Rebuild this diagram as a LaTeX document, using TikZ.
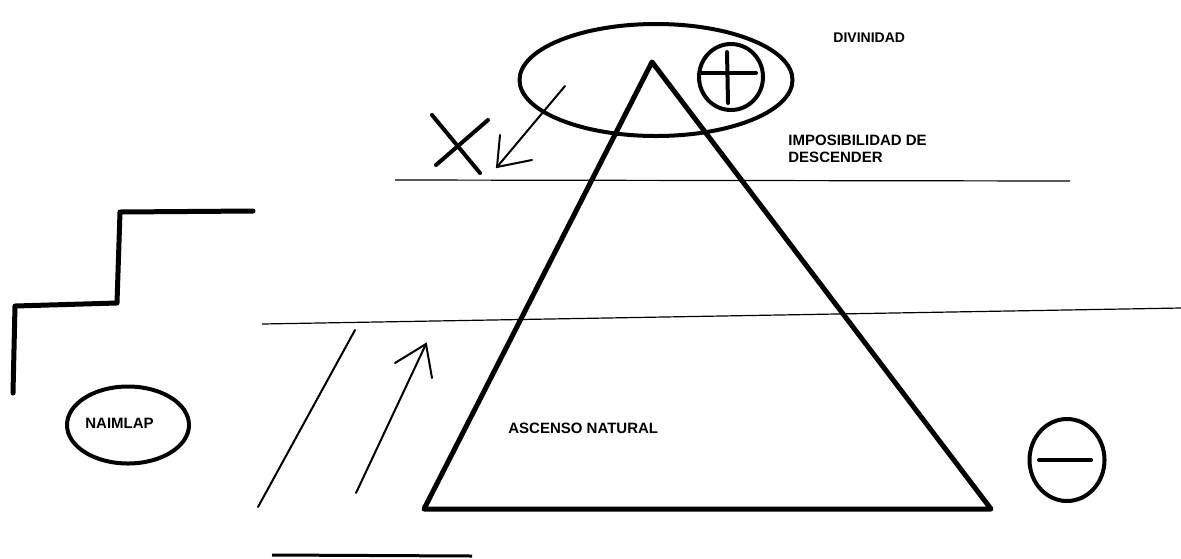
\documentclass[tikz,border=0pt]{standalone}
\usepackage{fontspec}
\setmainfont{Liberation Sans}
\usetikzlibrary{shapes.geometric,calc}
\begin{document}
\begin{tikzpicture}[x=0.5pt,y=-0.5pt,
  thickline/.style={line width=2.5pt,line cap=round,line join=round},
  medline/.style={line width=2pt,line cap=round},
  thinline/.style={line width=1pt,line cap=round},
  hairline/.style={line width=0.6pt},
  oval/.style={draw,ellipse,line width=2pt,inner sep=0pt},
  lbl/.style={font=\fontsize{7.5pt}{8.5pt}\selectfont\bfseries,inner sep=0pt,anchor=north west,align=left}]
\useasboundingbox[fill=white] (0,0) rectangle (1181,558);

% ellipses / circles
\node[oval,minimum width=136.5pt,minimum height=56pt] (div) at (656,80) {};
\node[oval,minimum width=32pt,minimum height=33pt] (plus) at (731,77) {};
\node[oval,minimum width=37.5pt,minimum height=41pt] (minus) at (1067,460) {};
\node[oval,minimum width=61pt,minimum height=38.5pt] (naim) at (128,425) {};

% plus and minus strokes
\draw[medline] (727,52) -- (728,103);
\draw[medline] (701,73) -- (756,73);
\draw[medline] (1039,460) -- (1091,460);

% triangle
\coordinate (apex) at (652,62);
\coordinate (bl) at (424,509);
\coordinate (br) at (991,509);
\draw[thickline] (apex) -- (bl) -- (br) -- cycle;

% horizontal lines
\coordinate (h1a) at (395,180); \coordinate (h1b) at (1070,181);
\draw[hairline] (h1a) -- (h1b);
\coordinate (h2a) at (262,324); \coordinate (h2b) at (1181,308);
\draw[hairline] (h2a) -- (h2b);
\coordinate (h3a) at (272,555); \coordinate (h3b) at (472,556);
\draw[line width=1.5pt] (h3a) -- (h3b);

% staircase
\draw[thickline] (13,393) -- (15,306) -- (117,303) -- (120,212) -- (253,211);

% X
\draw[medline] (432,115) -- (480,173);
\draw[medline] (488,120) -- (436,165);

% descending arrow
\coordinate (da) at (565,86); \coordinate (db) at (497,167);
\draw[thinline] (da) -- (db);
\draw[thinline] (500,135) -- (db) -- (532,160);

% ascending lines
\coordinate (l1a) at (355,330); \coordinate (l1b) at (258,507);
\draw[thinline] (l1a) -- (l1b);
\coordinate (aa) at (356,493); \coordinate (ab) at (426,344);
\draw[thinline] (aa) -- (ab);
\draw[thinline] (395,363) -- (ab) -- (432,378);

% labels
\node[lbl,font=\fontsize{7pt}{8.5pt}\selectfont\bfseries] (tdiv) at (833,32) {DIVINIDAD};
\node[lbl] (timp) at (788,135) {IMPOSIBILIDAD DE\\DESCENDER};
\node[lbl] (tasc) at (508,423) {ASCENSO NATURAL};
\node[lbl] (tnaim) at (85,418) {NAIMLAP};
\end{tikzpicture}
\end{document}
